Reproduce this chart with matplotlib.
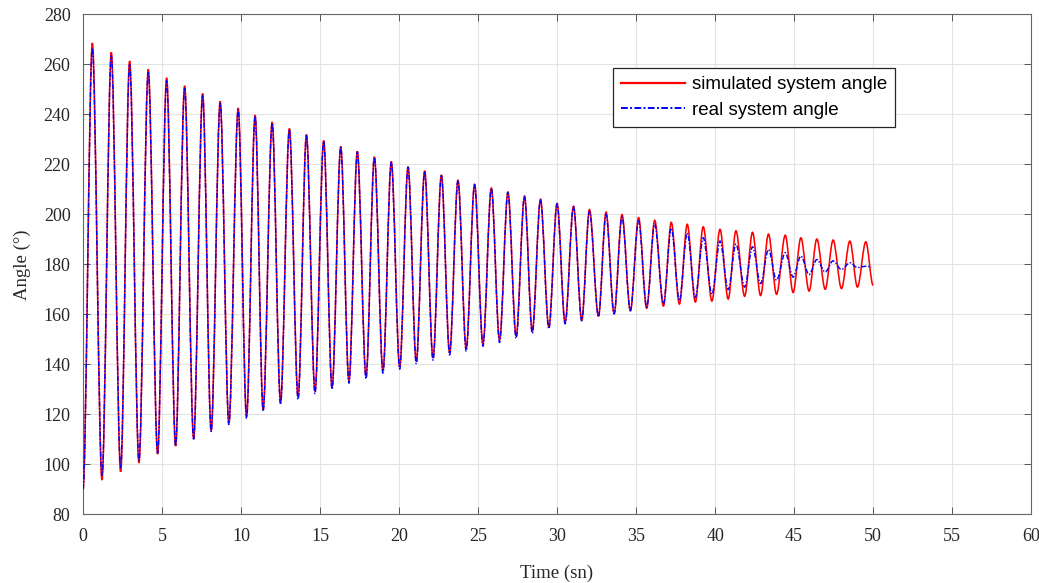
import matplotlib
matplotlib.use('Agg')
import matplotlib.pyplot as plt
from matplotlib.path import Path
from matplotlib.patches import PathPatch
from matplotlib.lines import Line2D

# extrema (time in s, angle in degrees)
start_point = (0.0, 90.0)
sim_end = (50.0, 171.6)
real_end = (49.9, 179.0)

peak_t = [0.59, 1.79, 2.95, 4.13, 5.29, 6.43, 7.57, 8.68, 9.82, 10.89, 11.97, 13.06, 14.14,
          15.23, 16.31, 17.36, 18.44, 19.51, 20.57, 21.62, 22.68, 23.73, 24.78, 25.84, 26.89,
          27.94, 28.95, 30.00, 31.04, 32.05, 33.10, 34.11, 35.16, 36.18, 37.23, 38.24, 39.25,
          40.31, 41.32, 42.37, 43.38, 44.44, 45.43, 46.44, 47.47, 48.53, 49.54]
trough_t = [1.20, 2.38, 3.54, 4.72, 5.86, 7.00, 8.11, 9.23, 10.35, 11.40, 12.50, 13.61, 14.68,
            15.76, 16.83, 17.91, 18.98, 20.04, 21.09, 22.15, 23.20, 24.25, 25.31, 26.36, 27.41,
            28.43, 29.48, 30.51, 31.56, 32.62, 33.61, 34.64, 35.67, 36.73, 37.74, 38.75, 39.80,
            40.83, 41.87, 42.88, 43.89, 44.94, 45.95, 46.97, 48.00, 49.01]

sim_peak = [268.5, 264.8, 261.3, 258.0, 254.6, 251.4, 248.3, 245.2, 242.5, 239.7, 236.9, 234.3,
            231.9, 229.5, 227.1, 225.2, 223.0, 221.1, 219.0, 217.4, 215.7, 213.7, 212.0, 210.5,
            208.9, 207.3, 206.0, 204.3, 203.2, 201.9, 200.9, 199.9, 198.7, 197.6, 196.8, 196.0,
            195.0, 194.0, 193.4, 192.8, 192.1, 191.6, 190.6, 190.1, 189.7, 189.3, 189.0]
sim_trough = [93.7, 97.0, 100.6, 104.1, 107.3, 110.3, 113.5, 116.4, 119.2, 122.2, 124.9, 126.9,
              129.2, 131.0, 133.4, 135.2, 137.4, 139.0, 141.2, 142.6, 144.7, 146.3, 148.2, 149.7,
              151.4, 153.2, 154.9, 156.8, 157.8, 159.3, 160.3, 161.4, 162.4, 163.3, 164.1, 164.9,
              165.3, 166.1, 167.2, 167.5, 168.0, 168.7, 169.3, 170.0, 170.3, 170.9]

real_peak = [266.5, 263.5, 260.0, 256.8, 253.5, 250.5, 247.5, 244.5, 241.8, 239.2, 236.5, 234.0,
             231.5, 229.2, 226.9, 225.0, 222.8, 220.9, 218.9, 217.2, 215.5, 213.6, 211.9, 210.4,
             208.8, 207.2, 205.9, 204.2, 203.0, 201.2, 200.0, 198.8, 197.4, 196.0, 194.5, 192.5,
             190.6, 189.3, 188.1, 187.0, 185.9, 184.6, 183.3, 181.9, 181.4, 180.6, 179.2]
real_trough = [95.5, 98.5, 101.5, 104.5, 107.3, 110.0, 113.0, 115.8, 118.3, 121.2, 123.9, 125.9,
               128.2, 130.0, 132.4, 134.2, 136.4, 138.0, 140.2, 141.6, 143.7, 145.3, 147.2, 148.7,
               150.4, 152.4, 154.2, 156.2, 157.4, 159.0, 160.2, 161.5, 162.9, 164.2, 165.5, 166.8,
               168.0, 169.9, 170.9, 172.3, 173.6, 174.9, 175.9, 176.9, 177.9, 178.7]

x_ticks = list(range(0, 61, 5))
y_ticks = list(range(80, 281, 20))


def extrema_path(peaks, troughs, end):
    """smooth path through the extrema, drawn as bezier segments by matplotlib"""
    pts = [start_point]
    for i in range(len(troughs)):
        pts.append((peak_t[i], peaks[i]))
        pts.append((trough_t[i], troughs[i]))
    pts.append((peak_t[-1], peaks[-1]))
    pts.append(end)
    verts = [pts[0]]
    codes = [Path.MOVETO]
    for (t0, v0), (t1, v1) in zip(pts[:-1], pts[1:]):
        dt = t1 - t0
        verts += [(t0 + dt / 3, v0), (t1 - dt / 3, v1), (t1, v1)]
        codes += [Path.CURVE4] * 3
    return Path(verts, codes)


plt.rcParams['font.family'] = ['Liberation Serif', 'DejaVu Serif']
fig = plt.figure(figsize=(10.39, 5.83), dpi=100)
ax = fig.add_axes([0.0799, 0.1178, 0.9125, 0.8577])

sim_color = '#ff0000'
real_color = '#0000ff'
real_dash = (0, (3.5, 1.2, 1.0, 1.2))

ax.add_patch(PathPatch(extrema_path(sim_peak, sim_trough, sim_end), fill=False,
                       edgecolor=sim_color, lw=1.15, zorder=3))
ax.add_patch(PathPatch(extrema_path(real_peak, real_trough, real_end), fill=False,
                       edgecolor=real_color, lw=1.05, linestyle=real_dash, zorder=4))

ax.set_xlim(0, 60)
ax.set_ylim(80, 280)
ax.set_xticks(x_ticks)
ax.set_yticks(y_ticks)
ax.grid(True, color='#e3e3e3', lw=0.8)
ax.set_axisbelow(True)
ax.tick_params(direction='in', top=True, right=True, length=5, width=0.7,
               colors='#555555', labelcolor='#262626', labelsize=13)
ax.tick_params(axis='x', pad=10)
ax.tick_params(axis='y', pad=9)
for sp in ax.spines.values():
    sp.set_color('#666666')
    sp.set_linewidth(0.8)

ax.set_xlabel('Time (sn)', fontsize=13.5, color='#262626', labelpad=14)
ax.set_ylabel('Angle (°)', fontsize=13.5, color='#262626', labelpad=9)

handles = [Line2D([], [], color=sim_color, lw=1.6),
           Line2D([], [], color=real_color, lw=1.4, linestyle=real_dash)]
leg = ax.legend(handles, ['simulated system angle', 'real system angle'],
                loc='upper left', bbox_to_anchor=(0.5595, 0.892),
                prop={'family': 'Liberation Sans', 'size': 13.5},
                frameon=True, fancybox=False, framealpha=1, edgecolor='#262626',
                handlelength=3.4, handletextpad=0.35, labelspacing=0.45,
                borderpad=0.42, borderaxespad=0)
leg.get_frame().set_linewidth(0.9)

fig.savefig('out.png', dpi=100)
